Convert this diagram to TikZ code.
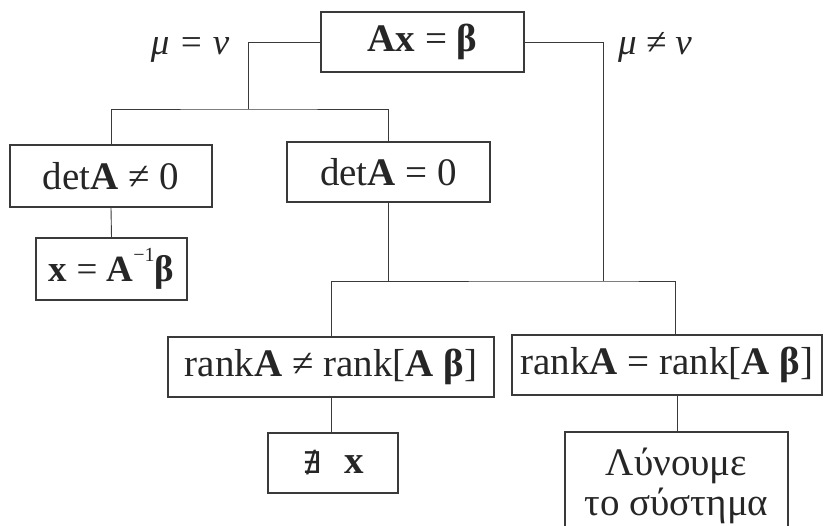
\documentclass[tikz,border=0pt]{standalone}
\usepackage{fontspec}
\setmainfont{Liberation Serif}
\newfontfamily\symfont{DejaVu Sans}
\definecolor{ink}{HTML}{262626}
\definecolor{wire}{HTML}{3A3A3A}
\begin{document}
\begin{tikzpicture}[x=1pt,y=-1pt,
  box/.style={draw=wire,line width=1.3pt,rectangle,inner sep=0pt,text=ink,
    font=\fontsize{39}{44}\selectfont},
  wirestyle/.style={draw=wire,line width=0.9pt},
  lbl/.style={text=ink,font=\fontsize{37}{42}\selectfont\itshape}]
\useasboundingbox (0,0) rectangle (830,526);
\fill[white] (0,0) rectangle (830,526);
\node[box,minimum width=203pt,minimum height=60pt] (top) at (422.5,42) {\textbf{Ax} = \textbf{β}};
\node[box,minimum width=202pt,minimum height=62pt] (det1) at (111,176) {det\textbf{A} ≠ 0};
\node[box,minimum width=203pt,minimum height=60pt] (det0) at (388.5,172) {det\textbf{A} = 0};
\node[box,minimum width=151pt,minimum height=62pt,font=\fontsize{37}{42}\selectfont] (xA) at (111.5,269) {\textbf{x} = \textbf{A}\raisebox{0.55em}{\fontsize{20}{20}\selectfont −1}\textbf{β}};
\node[box,minimum width=326pt,minimum height=60pt] (r1) at (331,367) {rank\textbf{A} ≠ rank[\textbf{A} \textbf{β}]};
\node[box,minimum width=310pt,minimum height=60pt] (r2) at (667,365) {rank\textbf{A} = rank[\textbf{A} \textbf{β}]};
\node[box,minimum width=130pt,minimum height=60pt] (nx) at (333,463) {{\symfont\fontsize{30}{30}\selectfont ∄}\hspace{0.6em}\textbf{x}};
\node[box,minimum width=223pt,minimum height=108pt,align=center] (lyn) at (676.5,486) {Λύνουμε\\[-4pt]το σύστημα};
\node[lbl] (lab1) at (190,50) {μ = ν};
\node[lbl] (lab2) at (655,47) {μ ≠ ν};
\coordinate (jL) at (248,109);
\coordinate (jR) at (603,281);
\draw[wirestyle] (top.west) -| (jL);
\draw[wirestyle] (det1.north) |- (jL) -| (det0.north);
\draw[wirestyle] (top.east) -| (jR);
\draw[wirestyle] (r1.north) |- (jR) -| ([xshift=8pt]r2.north);
\draw[wirestyle] (det0.south) -- (det0.south |- jR);
\draw[wirestyle] (det1.south) -- (xA.north);
\draw[wirestyle] (r1.south) -- (r1.south |- nx.north);
\draw[wirestyle] ([xshift=10pt]r2.south) -- ([xshift=10pt]r2.south |- lyn.north);
\end{tikzpicture}
\end{document}
